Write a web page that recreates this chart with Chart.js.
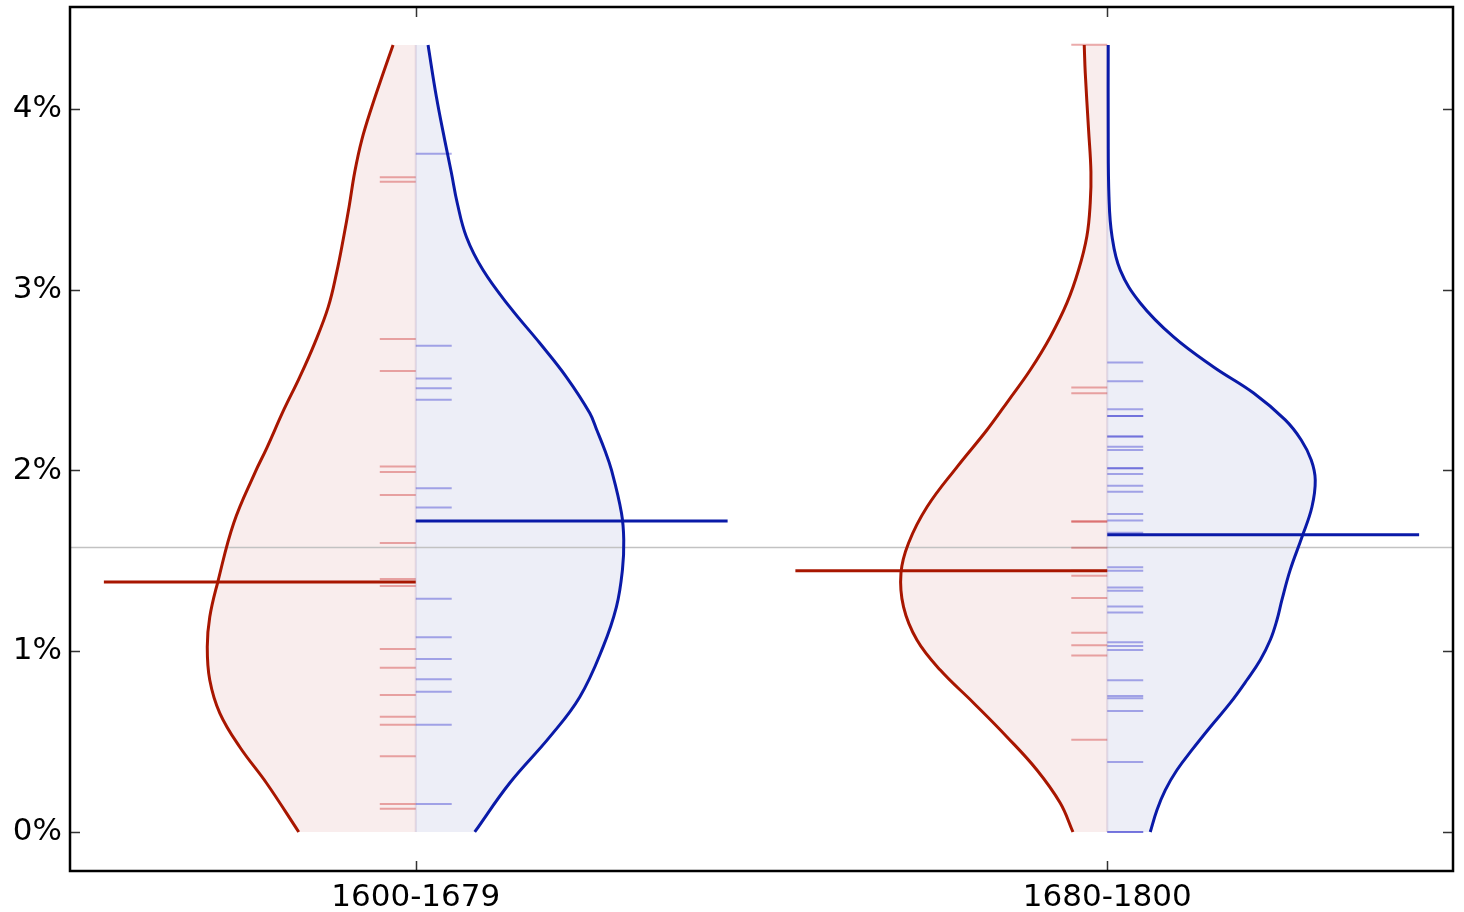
<!DOCTYPE html>
<html>
<head>
<meta charset="utf-8">
<script src="https://cdn.jsdelivr.net/npm/chart.js@4.4.0/dist/chart.umd.min.js"></script>
<style>
  html, body { margin: 0; padding: 0; background: #fff; }
  #wrap { width: 1464px; height: 912px; }
</style>
</head>
<body>
<div id="wrap"><canvas id="violin"></canvas></div>
<script>
// categories and y ticks (percent)
const categories = ["1600-1679", "1680-1800"];
const yTicks = [0, 1, 2, 3, 4];

// violin outlines: [value %, half width in category units]
const red1600Shape = [[4.354,0.0328],[4.199,0.047],[4.011,0.0636],[3.828,0.0781],[3.652,0.0882],[3.464,0.0962],[3.281,0.1048],[3.099,0.1142],[2.905,0.1265],[2.705,0.1461],[2.517,0.1678],[2.335,0.1909],[2.124,0.2155],[1.986,0.2328],[1.71,0.2632],[1.383,0.2863],[1.189,0.2979],[1.024,0.3015],[0.841,0.2979],[0.658,0.2834],[0.47,0.2545],[0.271,0.2159],[0,0.1692]];
const blue1600Shape = [[4.354,0.0178],[4.066,0.0299],[3.828,0.0419],[3.646,0.0516],[3.48,0.06],[3.292,0.0733],[3.109,0.0973],[2.905,0.1359],[2.705,0.1793],[2.517,0.2179],[2.318,0.2516],[2.224,0.2618],[2.113,0.2733],[2.003,0.283],[1.765,0.2975],[1.615,0.3008],[1.45,0.2989],[1.245,0.2902],[1.024,0.2709],[0.747,0.2372],[0.526,0.1938],[0.271,0.1359],[0,0.0853]];
const red1680Shape = [[4.354,0.0333],[4.199,0.0318],[3.884,0.027],[3.652,0.0236],[3.48,0.0246],[3.298,0.0294],[3.109,0.0415],[2.927,0.0583],[2.739,0.0824],[2.556,0.1114],[2.39,0.1424],[2.224,0.174],[2.019,0.2174],[1.798,0.2607],[1.599,0.2873],[1.433,0.2983],[1.245,0.2946],[1.062,0.2752],[0.896,0.2415],[0.714,0.1933],[0.526,0.145],[0.343,0.1017],[0.16,0.068],[0,0.0496]];
const blue1680Shape = [[4.354,0.0014],[3.884,0.0014],[3.513,0.0025],[3.298,0.0068],[3.109,0.0188],[2.927,0.0477],[2.739,0.0959],[2.573,0.1537],[2.429,0.2116],[2.28,0.2574],[2.169,0.2805],[2.058,0.295],[1.947,0.3008],[1.798,0.296],[1.632,0.2816],[1.45,0.2646],[1.284,0.2526],[1.173,0.2454],[1.062,0.2357],[0.952,0.2213],[0.841,0.202],[0.714,0.1779],[0.581,0.149],[0.454,0.1225],[0.343,0.1008],[0.232,0.0839],[0.122,0.0719],[0,0.0622]];

// individual observations (rug marks)
const red1600Obs = [3.623,3.597,2.727,2.55,2.022,1.992,1.865,1.599,1.4,1.361,1.013,0.908,0.758,0.638,0.594,0.419,0.155,0.129];
const blue1600Obs = [3.752,2.69,2.509,2.455,2.391,1.902,1.795,1.721,1.291,1.077,0.957,0.845,0.776,0.594,0.155];
const red1680Obs = [4.355,2.459,2.428,1.721,1.715,1.573,1.446,1.417,1.295,1.103,1.033,0.976,0.511];
const blue1680Obs = [2.597,2.494,2.339,2.302,2.302,2.188,2.188,2.131,2.114,2.013,2.013,1.98,1.915,1.882,1.76,1.723,1.656,1.465,1.446,1.352,1.335,1.247,1.214,1.05,1.029,1.007,0.839,0.752,0.74,0.67,0.387,0,0];

// medians and overall reference line
const redMedians = [1.383, 1.446];
const blueMedians = [1.721, 1.644];
const overallLine = 1.574;

const RED = "#a81600";
const BLUE = "#0a1aa8";
const rugLen = 0.052;
const medLen = 0.451;

const datasets = [];

function addViolin(shape, center, side, lineColor, fillColor) {
  const outline = shape.map(p => ({ x: center + side * p[1], y: p[0] }));
  const top = shape[0][0];
  const bottom = shape[shape.length - 1][0];
  datasets.push({
    data: [{ x: center, y: top }].concat(outline, [{ x: center, y: bottom }, { x: center, y: top }]),
    showLine: true, borderWidth: 0, pointRadius: 0, tension: 0,
    backgroundColor: fillColor, borderColor: "rgba(0,0,0,0)",
    fill: "shape", order: 10
  });
  datasets.push({
    data: outline, showLine: true, borderWidth: 3, pointRadius: 0, tension: 0.4,
    borderColor: lineColor, fill: false, order: 3
  });
}

function addRug(obs, center, side, color) {
  obs.forEach(v => {
    datasets.push({
      data: [{ x: center, y: v }, { x: center + side * rugLen, y: v }],
      showLine: true, borderWidth: 2, pointRadius: 0, borderColor: color,
      fill: false, order: 6
    });
  });
}

addViolin(red1600Shape, 0, -1, RED, "#f9eded");
addViolin(blue1600Shape, 0, 1, BLUE, "#edeef7");
addViolin(red1680Shape, 1, -1, RED, "#f9eded");
addViolin(blue1680Shape, 1, 1, BLUE, "#edeef7");

addRug(red1600Obs, 0, -1, "rgba(205,45,45,0.4)");
addRug(blue1600Obs, 0, 1, "rgba(45,45,205,0.4)");
addRug(red1680Obs, 1, -1, "rgba(205,45,45,0.4)");
addRug(blue1680Obs, 1, 1, "rgba(45,45,205,0.4)");

// center lines of the violins
[0, 1].forEach(c => {
  datasets.push({
    data: [{ x: c, y: 0 }, { x: c, y: 4.354 }],
    showLine: true, borderWidth: 2, pointRadius: 0,
    borderColor: "rgba(120,90,150,0.18)", fill: false, order: 5
  });
});

// overall line
datasets.push({
  data: [{ x: -0.5, y: overallLine }, { x: 1.5, y: overallLine }],
  showLine: true, borderWidth: 1.5, pointRadius: 0,
  borderColor: "#c2c2c2", fill: false, order: 8
});

// medians
[0, 1].forEach(c => {
  datasets.push({
    data: [{ x: c - medLen, y: redMedians[c] }, { x: c, y: redMedians[c] }],
    showLine: true, borderWidth: 3, pointRadius: 0, borderColor: RED, fill: false, order: 1
  });
  datasets.push({
    data: [{ x: c, y: blueMedians[c] }, { x: c + medLen, y: blueMedians[c] }],
    showLine: true, borderWidth: 3, pointRadius: 0, borderColor: BLUE, fill: false, order: 1
  });
});

// inward ticks and frame
const frameTicks = {
  id: "frameTicks",
  afterDraw(chart) {
    const { ctx, chartArea: a, scales } = chart;
    ctx.save();
    ctx.strokeStyle = "#333";
    ctx.lineWidth = 1.5;
    ctx.beginPath();
    yTicks.forEach(v => {
      const py = Math.round(scales.y.getPixelForValue(v)) + 0.5;
      ctx.moveTo(a.left, py); ctx.lineTo(a.left + 10, py);
      ctx.moveTo(a.right, py); ctx.lineTo(a.right - 10, py);
    });
    categories.forEach((c, i) => {
      const px = Math.round(scales.x.getPixelForValue(i)) + 0.5;
      ctx.moveTo(px, a.bottom); ctx.lineTo(px, a.bottom - 10);
      ctx.moveTo(px, a.top); ctx.lineTo(px, a.top + 10);
    });
    ctx.stroke();
    ctx.strokeStyle = "#000";
    ctx.lineWidth = 2.5;
    ctx.strokeRect(a.left, a.top, a.right - a.left, a.bottom - a.top);
    ctx.restore();
  }
};

Chart.defaults.font.family = "'DejaVu Sans', sans-serif";

new Chart(document.getElementById("violin"), {
  type: "scatter",
  data: { datasets },
  options: {
    responsive: true,
    maintainAspectRatio: false,
    animation: false,
    layout: { padding: { top: 7, right: 11, left: 0, bottom: 0 } },
    plugins: { legend: { display: false }, tooltip: { enabled: false } },
    scales: {
      x: {
        type: "linear", min: -0.5, max: 1.5,
        grid: { display: false, drawTicks: false }, border: { display: false },
        afterBuildTicks: s => { s.ticks = categories.map((c, i) => ({ value: i })); },
        afterFit: s => { s.height = 41; s.paddingLeft = 0; s.paddingRight = 0; },
        ticks: {
          callback: v => categories[v],
          color: "#000", font: { size: 31 }, padding: 8, maxRotation: 0
        }
      },
      y: {
        type: "linear", min: -0.2158, max: 4.5643,
        grid: { display: false, drawTicks: false }, border: { display: false },
        afterBuildTicks: s => { s.ticks = yTicks.map(v => ({ value: v })); },
        afterFit: s => { s.width = 70; s.paddingTop = 0; s.paddingBottom = 0; },
        ticks: {
          callback: v => v + "%",
          color: "#000", font: { size: 31 }, padding: 8
        }
      }
    }
  },
  plugins: [frameTicks]
});
</script>
</body>
</html>
